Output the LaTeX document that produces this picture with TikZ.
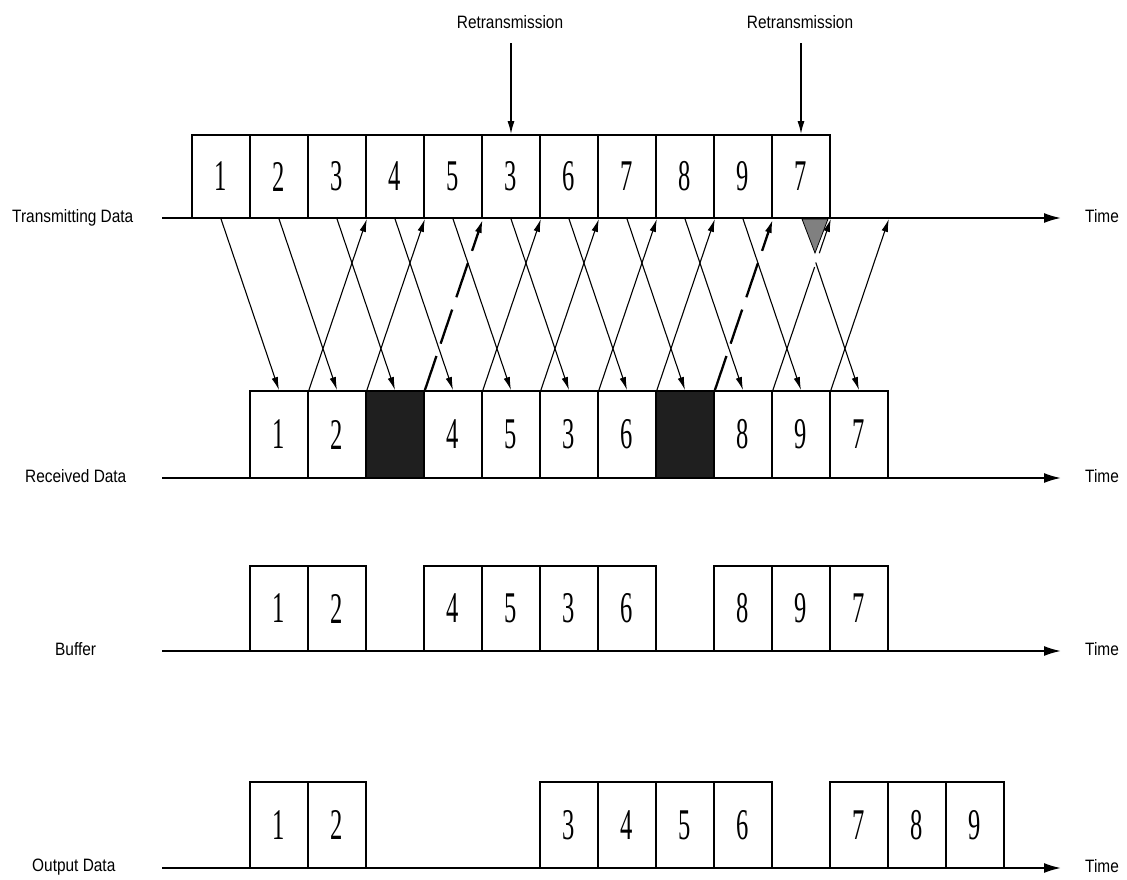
\documentclass[tikz,border=0pt]{standalone}
\usepackage{fontspec}
\usetikzlibrary{arrows.meta}
\newfontfamily\numfont[FakeStretch=0.56]{Liberation Serif}
\newfontfamily\labfont[FakeStretch=0.86]{Liberation Sans}

\begin{document}
\begin{tikzpicture}[x=1bp,y=-1bp,
  cell/.style={draw, line width=1.8bp, minimum width=58bp, inner sep=0pt,
    font=\numfont\fontsize{44}{44}\selectfont},
  lost/.style={cell, fill=black!88},
  lab/.style={anchor=base west, inner sep=0pt, font=\labfont\fontsize{18}{18}\selectfont},
  retxt/.style={anchor=base, inner sep=0pt, font=\labfont\fontsize{18}{18}\selectfont},
  axis/.style={line width=1.8bp, -{Latex[length=17bp,width=10bp]}},
  pkt/.style={line width=1.1bp, -{Latex[length=13bp,width=6.5bp]}},
  nak/.style={line width=2.3bp, dash pattern=on 36bp off 13bp, -{Latex[length=14bp,width=7bp]}},
  cue/.style={line width=1.5bp, -{Latex[length=13bp,width=7bp]}}]
\useasboundingbox (0,0) rectangle (1127,880);

% transmitted packets (3 and 7 are sent twice)
\foreach \v [count=\k] in {1,2,3,4,5,3,6,7,8,9,7}
  \node[cell, minimum height=83bp] (t\k) at ({163+58*\k},176.5) {\v};

% received packets, the dark cells are lost ones
\foreach \s/\v [count=\k] in {cell/1,cell/2,lost/{},cell/4,cell/5,cell/3,cell/6,lost/{},cell/8,cell/9,cell/7}
  \node[\s, minimum height=87bp] (r\k) at ({221+58*\k},434.5) {\v};

% buffer contents
\foreach \x/\v in {1/1,2/2,4/4,5/5,6/3,7/6,9/8,10/9,11/7}
  \node[cell, minimum height=85bp] (b\x) at ({221+58*\x},608.5) {\v};

% delivered output, in order
\foreach \x/\v in {1/1,2/2,6/3,7/4,8/5,9/6,11/7,12/8,13/9}
  \node[cell, minimum height=86bp] (o\x) at ({221+58*\x},825) {\v};

% row labels and time axes
\node[lab] (lT) at (12,222) {Transmitting Data};
\node[lab] (lR) at (25,482) {Received Data};
\node[lab] (lB) at (55,655) {Buffer};
\node[lab] (lO) at (32,871) {Output Data};
\foreach \n/\y in {T/218,R/478,B/651,O/868}{
  \coordinate (s\n) at (162,\y);
  \coordinate (e\n) at (1061,\y);
  \node[lab] (time\n) at (1085,\y+4) {Time};
  \draw[axis] (s\n) -- (e\n);
}

% retransmission markers
\node[retxt] (rt1) at (510,28) {Retransmission};
\node[retxt] (rt2) at (800,28) {Retransmission};
\draw[cue, shorten <=15bp] (rt1.south -| t6.north) -- (t6.north);
\draw[cue, shorten <=15bp] (rt2.south -| t11.north) -- (t11.north);

% packets on the way to the receiver
\foreach \k in {1,...,10}
  \draw[pkt] (t\k.south) -- (r\k.north);

% timeout marker of the second retransmission
\draw[line width=0.8bp, fill=black!50] (802,219) -- (828,219) -- (815,253) -- cycle;
\draw[pkt, shorten <=46bp] (t11.south) -- (r11.north);

% acknowledgements back to the sender
\foreach \k/\j in {1/3,2/4,4/6,5/7,6/8,7/9}
  \draw[pkt] (r\k.north east) -- (t\j.south east);
\draw[nak] (r3.north east) -- (t5.south east);
\draw[nak] (r8.north east) -- (t10.south east);
\draw[pkt, dash pattern=on 130bp off 14.5bp on 80bp] (r9.north east) -- (t11.south east);
\draw[pkt] (r10.north east) -- (r11.north east |- t1.south);
\end{tikzpicture}
\end{document}
